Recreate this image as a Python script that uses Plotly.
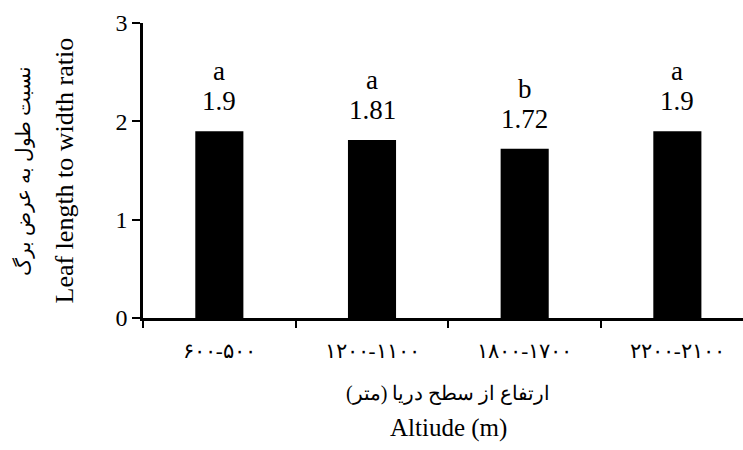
import plotly.graph_objects as go

categories = ["۶۰۰-۵۰۰", "۱۲۰۰-۱۱۰۰", "۱۸۰۰-۱۷۰۰", "۲۲۰۰-۲۱۰۰"]
values = [1.9, 1.81, 1.72, 1.9]
value_labels = ["1.9", "1.81", "1.72", "1.9"]
letters = ["a", "a", "b", "a"]
y_ticks = [0, 1, 2, 3]

FONT = "Liberation Serif, Times New Roman, serif"

fig = go.Figure()
fig.add_trace(go.Bar(
    x=categories, y=values, width=0.315,
    marker=dict(color="black", line=dict(width=0)),
))

for c, v, lab, let in zip(categories, values, value_labels, letters):
    fig.add_annotation(x=c, y=v, xref="x", yref="y", text=lab,
                       showarrow=False, yanchor="middle", yshift=30,
                       font=dict(family=FONT, size=27, color="black"))
    fig.add_annotation(x=c, y=v, xref="x", yref="y", text=let,
                       showarrow=False, yanchor="middle", yshift=60,
                       font=dict(family=FONT, size=27, color="black"))

fig.add_annotation(xref="paper", yref="paper", x=0, y=0.5, xshift=-120, xanchor="center",
                   text="نسبت طول به عرض برگ", textangle=-90, showarrow=False,
                   font=dict(family=FONT, size=20, color="black"))
fig.add_annotation(xref="paper", yref="paper", x=0, y=0.5, xshift=-79, xanchor="center",
                   text="Leaf length to width ratio", textangle=-90, showarrow=False,
                   font=dict(family=FONT, size=26, color="black"))
fig.add_annotation(xref="x", yref="paper", x=1.5, y=0, yshift=-75, yanchor="middle",
                   text="ارتفاع از سطح دریا (متر)", showarrow=False,
                   font=dict(family=FONT, size=20, color="black"))
fig.add_annotation(xref="x", yref="paper", x=1.5, y=0, yshift=-110, yanchor="middle",
                   text="Altiude (m)", showarrow=False,
                   font=dict(family=FONT, size=25, color="black"))

fig.update_layout(
    width=743, height=450,
    margin=dict(l=143, r=0, t=23, b=132),
    plot_bgcolor="white", paper_bgcolor="white",
    showlegend=False,
    font=dict(family=FONT, color="black"),
    xaxis=dict(type="category", range=[-0.5, 3.43], tickson="boundaries",
               ticks="outside", ticklen=7, tickwidth=2, tickcolor="black",
               ticklabelstandoff=12,
               showline=True, linecolor="black", linewidth=2.5,
               showgrid=False, zeroline=False,
               tickfont=dict(family=FONT, size=21, color="black")),
    yaxis=dict(range=[0, 3], tickvals=y_ticks, ticks="outside", ticklen=8,
               tickwidth=2, tickcolor="black",
               showline=True, linecolor="black", linewidth=2.5,
               showgrid=False, zeroline=False,
               tickfont=dict(family=FONT, size=24, color="black")),
)

fig.write_html("out.html")
